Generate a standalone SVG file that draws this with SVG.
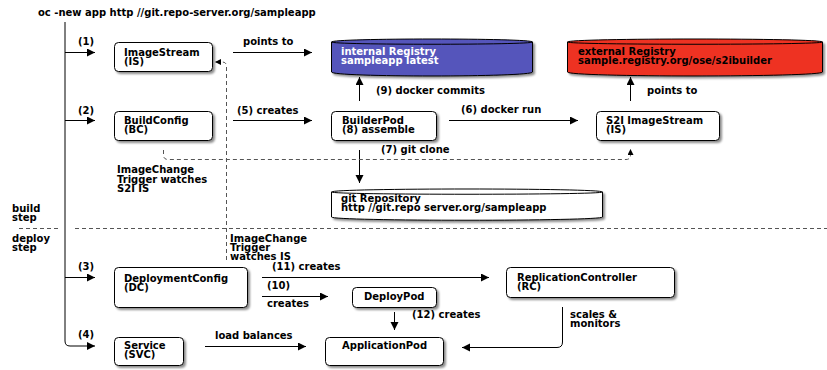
<svg xmlns="http://www.w3.org/2000/svg" width="827" height="370" viewBox="0 0 827 370">
<defs>
<marker id="ah" markerUnits="userSpaceOnUse" markerWidth="9" markerHeight="9" refX="8" refY="4" orient="auto"><path d="M0,0 L8,4 L0,8 Z" fill="#000"/></marker>
<marker id="ahs" markerUnits="userSpaceOnUse" markerWidth="7" markerHeight="7" refX="6" refY="3" orient="auto"><path d="M0,0 L6,3 L0,6 Z" fill="#000"/></marker>
<filter id="sh" x="-10%" y="-10%" width="130%" height="150%"><feDropShadow dx="2" dy="2" stdDeviation="0.8" flood-color="#000" flood-opacity="0.45"/></filter>
</defs>
<style>
text{font-family:"DejaVu Sans","Liberation Sans",sans-serif;font-weight:bold;font-size:10px;fill:#000}
.box{fill:#fff;stroke:#000;stroke-width:1;filter:url(#sh)}
.cyl{stroke:#000;stroke-width:1;filter:url(#sh)}
.lid{fill:none;stroke:#000;stroke-width:1}
.ln{fill:none;stroke:#000;stroke-width:1}
.dash{fill:none;stroke:#555;stroke-width:1;stroke-dasharray:4 3}
.w{fill:#fff}
</style>
<rect width="827" height="370" fill="#fff"/>

<g id="connectors">
<path class="ln" d="M65,22 V341 Q65,346 70,346 H95" marker-end="url(#ah)"/>
<path class="ln" d="M65,52.5 H95" marker-end="url(#ah)"/>
<path class="ln" d="M65,120.5 H95" marker-end="url(#ah)"/>
<path class="ln" d="M65,277.5 H95" marker-end="url(#ah)"/>
<path class="ln" d="M233,52.5 H312" marker-end="url(#ah)"/>
<path class="ln" d="M233,120.5 H312" marker-end="url(#ah)"/>
<path class="ln" d="M449,120.5 H578" marker-end="url(#ah)"/>
<path class="ln" d="M359.5,101 V77" marker-end="url(#ah)"/>
<path class="ln" d="M630.5,101 V77" marker-end="url(#ah)"/>
<path class="ln" d="M359.5,150 V183" marker-end="url(#ah)"/>
<path class="dash" d="M163.5,150 V155 Q163.5,159.5 168,159.5 H626 Q630.5,159.5 630.5,155 V149" marker-end="url(#ahs)"/>
<path class="dash" d="M226.5,260 V66 Q226.5,62 222,62 H215" marker-end="url(#ahs)"/>
<path class="dash" d="M19,228.5 H58 M75,228.5 H827"/>
<path class="ln" d="M262,277.5 H489" marker-end="url(#ah)"/>
<path class="ln" d="M262,296.5 H328" marker-end="url(#ah)"/>
<path class="ln" d="M394.5,312 V330" marker-end="url(#ah)"/>
<path class="ln" d="M562.5,307 V342 Q562.5,347.5 557,347.5 H462" marker-end="url(#ah)"/>
<path class="ln" d="M205,346.5 H306" marker-end="url(#ah)"/>
</g>

<g id="labels">
<text x="38" y="16">oc -new app http //git.repo-server.org/sampleapp</text>
<text x="78" y="45">(1)</text>
<text x="78" y="114">(2)</text>
<text x="78" y="270">(3)</text>
<text x="78" y="338">(4)</text>
<text x="243" y="45">points to</text>
<text x="237" y="114">(5) creates</text>
<text x="376" y="94">(9) docker commits</text>
<text x="647" y="94">points to</text>
<text x="461" y="113">(6) docker run</text>
<text x="381" y="153">(7) git clone</text>
<text x="117" y="173">ImageChange<tspan x="117" y="182.5">Trigger watches</tspan><tspan x="117" y="192">S2I IS</tspan></text>
<text x="12" y="212">build<tspan x="12" y="221">step</tspan></text>
<text x="12" y="242">deploy<tspan x="12" y="251">step</tspan></text>
<text x="230" y="242">ImageChange<tspan x="230" y="251">Trigger</tspan><tspan x="230" y="260">watches IS</tspan></text>
<text x="272" y="270">(11) creates</text>
<text x="267" y="289">(10)</text>
<text x="267" y="307">creates</text>
<text x="412" y="318">(12) creates</text>
<text x="570" y="318">scales &amp;<tspan x="570" y="327">monitors</tspan></text>
<text x="215" y="339">load balances</text>
</g>

<g id="imagestream">
<rect class="box" x="114.5" y="42.5" width="98" height="29" rx="4"/>
<text x="124" y="56">ImageStream<tspan x="124" y="65">(IS)</tspan></text>
</g>
<g id="buildconfig">
<rect class="box" x="114.5" y="111.5" width="98" height="29" rx="4"/>
<text x="124" y="124">BuildConfig<tspan x="124" y="133">(BC)</tspan></text>
</g>
<g id="builderpod">
<rect class="box" x="331.5" y="111.5" width="105" height="29" rx="4"/>
<text x="342" y="124">BuilderPod<tspan x="342" y="133">(8) assemble</tspan></text>
</g>
<g id="s2i-imagestream">
<rect class="box" x="596.5" y="111.5" width="123" height="29" rx="4"/>
<text x="606" y="124">S2I ImageStream<tspan x="606" y="133">(IS)</tspan></text>
</g>
<g id="internal-registry">
<path class="cyl" fill="#5555BB" d="M331.5,42 C331.5,38 532.5,38 532.5,42 V72 C532.5,77.3 331.5,77.3 331.5,72 Z"/>
<path class="lid" d="M331.5,42 C331.5,45 532.5,45 532.5,42"/>
<text class="w" x="341" y="55">internal Registry<tspan x="341" y="64">sampleapp latest</tspan></text>
</g>
<g id="external-registry">
<path class="cyl" fill="#EE3322" d="M567.5,42 C567.5,38 822.5,38 822.5,42 V72 C822.5,77.3 567.5,77.3 567.5,72 Z"/>
<path class="lid" d="M567.5,42 C567.5,45 822.5,45 822.5,42"/>
<text x="578" y="55">external Registry<tspan x="578" y="64">sample.registry.org/ose/s2ibuilder</tspan></text>
</g>
<g id="git-repository">
<path class="cyl" fill="#fff" d="M331.5,192 C331.5,188 602.5,188 602.5,192 V217 C602.5,221.3 331.5,221.3 331.5,217 Z"/>
<path class="lid" d="M331.5,192 C331.5,195 602.5,195 602.5,192"/>
<text x="341" y="202">git Repository<tspan x="341" y="211">http //git.repo server.org/sampleapp</tspan></text>
</g>
<g id="deploymentconfig">
<rect class="box" x="114.5" y="267.5" width="133" height="40" rx="4"/>
<text x="124" y="282">DeploymentConfig<tspan x="124" y="291">(DC)</tspan></text>
</g>
<g id="deploypod">
<rect class="box" x="352.5" y="287.5" width="84" height="20" rx="4"/>
<text x="364" y="300">DeployPod</text>
</g>
<g id="replicationcontroller">
<rect class="box" x="506.5" y="267.5" width="168" height="30" rx="4"/>
<text x="517" y="281">ReplicationController<tspan x="517" y="290">(RC)</tspan></text>
</g>
<g id="service">
<rect class="box" x="114.5" y="337.5" width="69" height="28" rx="4"/>
<text x="124" y="349">Service<tspan x="124" y="358">(SVC)</tspan></text>
</g>
<g id="applicationpod">
<rect class="box" x="325.5" y="337.5" width="118" height="28" rx="4"/>
<text x="342" y="349">ApplicationPod</text>
</g>
</svg>
